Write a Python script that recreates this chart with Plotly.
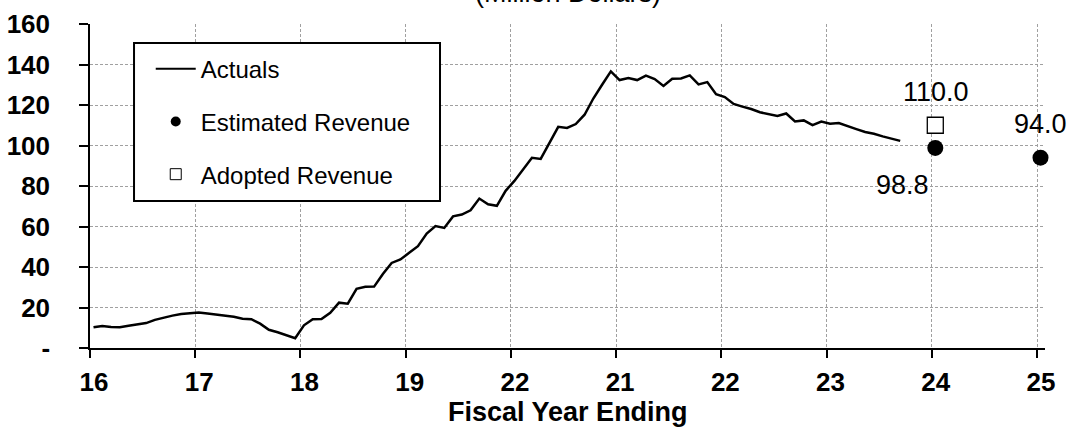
import plotly.graph_objects as go

# ---- data ----
tick_labels = ["16", "17", "18", "19", "22", "21", "22", "23", "24", "25"]
tick_positions = list(range(len(tick_labels)))

actuals = [
    10.2, 10.9, 10.4, 10.3, 11.0, 11.7, 12.3, 13.9, 15.1, 16.0, 16.8, 17.3,
    17.5, 17.0, 16.5, 15.9, 15.4, 14.4, 14.2, 12.0, 9.0, 7.8, 6.3, 4.8,
    11.2, 14.2, 14.3, 17.4, 22.4, 21.9, 29.2, 30.2, 30.3, 36.5, 42.0, 43.7,
    47.0, 50.3, 56.5, 60.2, 59.3, 65.0, 65.9, 68.0, 73.8, 71.0, 70.2, 77.6,
    82.5, 88.2, 93.9, 93.4, 101.5, 109.2, 108.7, 110.6, 115.2, 123.2, 130.0, 136.6,
    132.3, 133.3, 132.3, 134.5, 132.8, 129.4, 133.0, 133.1, 134.6, 130.2, 131.3, 125.3,
    123.9, 120.5, 119.2, 118.0, 116.4, 115.6, 114.6, 115.8, 111.9, 112.4, 110.1, 111.8,
    110.8, 111.1, 109.5, 108.1, 106.7, 105.8, 104.5, 103.3, 102.3,
]
estimated_pos = [8, 9]
estimated_values = [98.8, 94.0]
adopted_pos = [8]
adopted_values = [110.0]

y_ticks = [0, 20, 40, 60, 80, 100, 120, 140, 160]
y_tick_labels = ["-", "20", "40", "60", "80", "100", "120", "140", "160"]

# ---- styling ----
FONT = "Liberation Sans, Arial, sans-serif"
MONTH_OFFSET = 0.4 / 12
x_actuals = [(i / 12) + MONTH_OFFSET for i in range(len(actuals))]
x_est = [p + MONTH_OFFSET for p in estimated_pos]
x_adp = [p + MONTH_OFFSET for p in adopted_pos]

fig = go.Figure()

fig.add_trace(go.Scatter(x=x_actuals, y=actuals, mode="lines",
                         line=dict(color="black", width=2.5),
                         showlegend=False, hoverinfo="skip"))
fig.add_trace(go.Scatter(x=x_est, y=estimated_values, mode="markers",
                         marker=dict(color="black", size=16, symbol="circle"),
                         showlegend=False, cliponaxis=False))
fig.add_trace(go.Scatter(x=x_adp, y=adopted_values, mode="markers",
                         marker=dict(color="white", size=16, symbol="square",
                                     line=dict(color="black", width=1.3)),
                         showlegend=False, cliponaxis=False))

# legend entries
fig.add_trace(go.Scatter(x=[None], y=[None], mode="lines", name="Actuals",
                         line=dict(color="black", width=2), legendgroup="a"))
fig.add_trace(go.Scatter(x=[None], y=[None], mode="markers", name="Estimated Revenue",
                         marker=dict(color="black", size=10, symbol="circle"),
                         legendgroup="b"))
fig.add_trace(go.Scatter(x=[None], y=[None], mode="markers", name="Adopted Revenue",
                         marker=dict(color="white", size=11, symbol="square",
                                     line=dict(color="black", width=1)),
                         legendgroup="c"))

annotations = []
# value labels
for xv, yv, dx, dy in [(x_adp[0], adopted_values[0], 1, 33),
                       (x_est[0], estimated_values[0], -33, -37),
                       (x_est[1], estimated_values[1], 0, 34)]:
    annotations.append(dict(x=xv, y=yv, xref="x", yref="y", text=f"{yv:.1f}",
                            showarrow=False, xshift=dx, yshift=dy,
                            font=dict(family=FONT, size=27, color="black")))
annotations.append(dict(x=0.5, y=1, xref="paper", yref="paper", yanchor="bottom",
                        yshift=14, text="(Million Dollars)", showarrow=False,
                        font=dict(family=FONT, size=27, color="black")))
annotations.append(dict(x=0.5, y=-0.1975, xref="paper", yref="paper", yanchor="middle",
                        text="<b>Fiscal Year Ending</b>", showarrow=False,
                        font=dict(family=FONT, size=27, color="black")))

fig.update_layout(
    width=1071, height=429,
    margin=dict(l=90, r=26, t=24, b=81, autoexpand=False),
    paper_bgcolor="white", plot_bgcolor="white",
    font=dict(family=FONT, color="black"),
    annotations=annotations,
    shapes=[dict(type="rect", xref="paper", yref="paper",
                 x0=0.0461, x1=0.3665, y0=0.4537, y1=0.9414,
                 line=dict(color="black", width=2), fillcolor="white", layer="above")],
    legend=dict(x=0.0636, y=0.93, xanchor="left", yanchor="top",
                bgcolor="rgba(0,0,0,0)", borderwidth=0,
                font=dict(family=FONT, size=24, color="black"),
                itemwidth=40, traceorder="grouped", tracegroupgap=18.5,
                indentation=0),
    xaxis=dict(range=[0, 9.076], tickmode="array", tickvals=tick_positions,
               ticktext=tick_labels, ticks="outside", ticklen=8, tickwidth=1.5,
               tickcolor="black", showline=True, linecolor="black", linewidth=2,
               showgrid=True, gridcolor="#a0a0a0", gridwidth=1, griddash="3px,2px",
               zeroline=False, ticklabelshift=4, ticklabelstandoff=2, automargin=False,
               tickfont=dict(family=FONT, size=26, color="black", weight="bold")),
    yaxis=dict(range=[0, 160], tickmode="array", tickvals=y_ticks,
               ticktext=y_tick_labels, ticks="outside", ticklen=9, tickwidth=1.5,
               tickcolor="black", showline=True, linecolor="black", linewidth=1.5,
               showgrid=True, gridcolor="#a0a0a0", gridwidth=1, griddash="3px,2px",
               zeroline=False, ticklabelstandoff=24, automargin=False,
               tickfont=dict(family=FONT, size=26, color="black", weight="bold")),
)

fig.write_html("out.html", config={"displayModeBar": False},
               post_script="document.body.style.margin='0';document.body.style.overflow='hidden';")
